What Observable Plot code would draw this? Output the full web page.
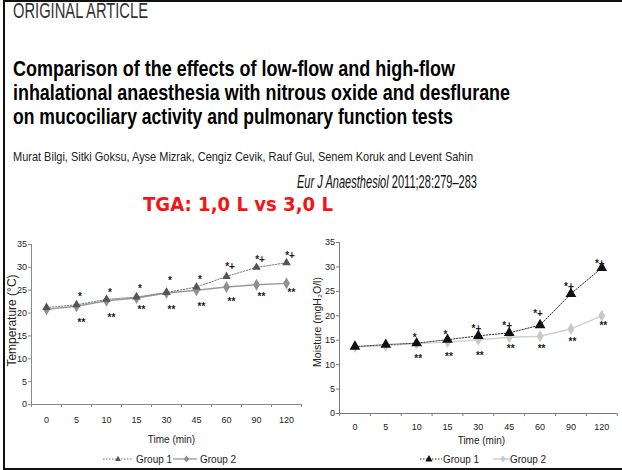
<!DOCTYPE html>
<html>
<head>
<meta charset="utf-8">
<script src="https://cdn.jsdelivr.net/npm/d3@7"></script>
<script src="https://cdn.jsdelivr.net/npm/@observablehq/plot@0.6"></script>
<style>
  html, body { margin: 0; padding: 0; background: #fff; }
  #page { position: relative; width: 622px; height: 470px; overflow: hidden; background: #fff; }
  .t { position: absolute; white-space: nowrap; line-height: 1; display: inline-block; transform-origin: 0 0; }
  .narrow { font-family: "Liberation Sans Narrow", "Arial Narrow", "Liberation Sans", sans-serif; }
  .bar { position: absolute; background: #111; }
  .chart { position: absolute; }
  .leg { position: absolute; top: 222px; height: 14px; font-family: "Liberation Sans Narrow", "Liberation Sans", sans-serif; font-size: 10px; color: #222; }
  .leg svg { position: absolute; top: 2px; }
  .leg span { position: absolute; top: 1.5px; white-space: nowrap; }
</style>
</head>
<body>
<div id="page"></div>
<script>
// ---------- data ----------
const timeLabels = ["0", "5", "10", "15", "30", "45", "60", "90", "120"];
const seriesNames = ["Group 1", "Group 2"];

const tempGroup1 = [21.2, 21.8, 23.0, 23.5, 24.5, 25.7, 28.0, 30.0, 31.0];
const tempGroup2 = [20.8, 21.5, 22.7, 23.3, 24.4, 25.0, 25.7, 26.2, 26.5];
const tempSig1 = ["", "*", "*", "*", "*", "*", "*+", "*+", "*+"];
const tempSig1At = [null, 24.0, 24.9, 25.7, 27.5, 27.7, 30.6, 32.2, 33.1];
const tempSig2 = ["", "**", "**", "**", "**", "**", "**", "**", "**"];
const tempSig2At = [null, 18.5, 19.5, 21.3, 21.3, 22.0, 23.1, 24.1, 24.9];

const moistGroup1 = [13.7, 14.1, 14.4, 15.1, 15.9, 16.5, 18.1, 24.5, 29.8];
const moistGroup2 = [13.6, 13.9, 14.3, 14.6, 15.1, 15.6, 15.8, 17.3, 20.0];
const moistSig1 = ["", "", "*", "*", "*+", "*+", "*+", "*+", "*+"];
const moistSig1At = [null, null, 16.0, 16.6, 17.7, 18.4, 20.9, 26.3, 31.1];
const moistSig2 = ["", "", "**", "**", "**", "**", "**", "**", "**"];
const moistSig2At = [null, null, 11.7, 12.2, 12.3, 13.7, 13.7, 15.1, 18.4];

const yTicks = [0, 5, 10, 15, 20, 25, 30, 35];

const headerText = "ORIGINAL ARTICLE";
const titleLines = [
  "Comparison of the effects of low-flow and high-flow",
  "inhalational anaesthesia with nitrous oxide and desflurane",
  "on mucociliary activity and pulmonary function tests"
];
const authorsText = "Murat Bilgi, Sitki Goksu, Ayse Mizrak, Cengiz Cevik, Rauf Gul, Senem Koruk and Levent Sahin";
const journalName = "Eur J Anaesthesiol";
const journalRef = " 2011;28:279\u2013283";
const redNote = "TGA: 1,0 L vs 3,0 L";

// ---------- page text ----------
const page = document.getElementById("page");
function addText(html, cls, left, baseline, fs, width, style) {
  const el = document.createElement("div");
  el.className = "t " + cls;
  el.innerHTML = html;
  el.style.left = left + "px";
  el.style.fontSize = fs + "px";
  el.style.top = (baseline - 0.8465 * fs) + "px";
  Object.assign(el.style, style || {});
  page.appendChild(el);
  const w = el.getBoundingClientRect().width;
  if (width && w > 0) el.style.transform = `scaleX(${width / w})`;
  return el;
}
function bar(l, t, w, h) {
  const b = document.createElement("div");
  b.className = "bar";
  Object.assign(b.style, {left: l + "px", top: t + "px", width: w + "px", height: h + "px"});
  page.appendChild(b);
}
bar(3, 0, 619, 2);
bar(3, 0, 2, 470);
bar(3, 468, 619, 2);

addText(headerText, "narrow", 12.7, 19, 21.5, 135, {color: "#333"});
const titleBase = [76.3, 100.6, 124.8];
const titleW = [442, 497, 440];
titleLines.forEach((s, k) => addText(s, "narrow", 13, titleBase[k], 22, titleW[k], {fontWeight: "bold", color: "#000"}));
addText(authorsText, "narrow", 13, 161.7, 13.5, 460, {color: "#222"});
addText(`<i>${journalName}</i>${journalRef}`, "narrow", 296.7, 188.3, 19, 180, {color: "#111"});
addText(redNote, "", 143, 210.7, 20, 190, {fontFamily: "'Comic Sans MS', 'DejaVu Sans', sans-serif", fontWeight: "bold", color: "#f31515"});

// ---------- charts ----------
function makeChart(o) {
  const rows1 = o.g1.map((v, i) => ({i, v, s: seriesNames[0]}));
  const rows2 = o.g2.map((v, i) => ({i, v, s: seriesNames[1]}));
  const a1 = o.sig1.map((t, i) => ({i, t, y: o.sig1At[i]})).filter(d => d.t);
  const a2 = o.sig2.map((t, i) => ({i, t, y: o.sig2At[i]})).filter(d => d.t);
  return Plot.plot({
    width: o.width, height: o.height,
    marginLeft: o.ml, marginRight: o.mr, marginTop: o.mt, marginBottom: o.mb,
    style: {fontFamily: "'Liberation Sans Narrow', 'Liberation Sans', sans-serif", fontSize: "9px", color: "#222", background: "transparent", overflow: "visible"},
    x: {domain: [-0.5, timeLabels.length - 0.5]},
    y: {domain: [0, 35]},
    marks: [
      Plot.axisY({ticks: yTicks, tickSize: 3, tickPadding: 1.5, label: null, stroke: o.axis}),
      Plot.axisX({ticks: d3.range(-0.5, timeLabels.length, 1), tickSize: 3, tickFormat: () => "", label: null, stroke: o.axis}),
      Plot.axisX({ticks: d3.range(timeLabels.length), tickSize: 0, tickPadding: o.tp, tickFormat: i => timeLabels[i], label: null}),
      Plot.ruleX([-0.5], {stroke: o.axis}),
      Plot.ruleY([0], {stroke: o.axis}),
      Plot.line(rows2, {x: "i", y: "v", stroke: o.c2line, strokeWidth: 1.4}),
      Plot.line(rows1, {x: "i", y: "v", stroke: o.c1line, strokeWidth: 1, strokeDasharray: "1.5,1.5"}),
      Plot.dot(rows2, {x: "i", y: "v", symbol: "diamond", r: o.r2, fill: o.c2, stroke: "none"}),
      Plot.dot(rows1, {x: "i", y: "v", symbol: "triangle", r: o.r1, fill: o.c1, stroke: "none"}),
      Plot.text(a1, {x: "i", y: "y", text: "t", dx: o.dx1, dy: 2.2, fontSize: 10, fill: "#1a1a1a", fontWeight: "bold", fontFamily: "'Liberation Sans', sans-serif"}),
      Plot.text(a2, {x: "i", y: "y", text: "t", dx: o.dx2, dy: 2.5, fontSize: 10, fill: "#1a1a1a", fontWeight: "bold", fontFamily: "'Liberation Sans', sans-serif"}),
      Plot.text([o.yLabel], {frameAnchor: "left", textAnchor: "middle", lineAnchor: "middle", text: d => d, rotate: -90, dx: o.ylx, dy: o.yly, fontSize: o.ylfs, fill: "#222", fontFamily: "'Liberation Sans', sans-serif"}),
      Plot.text(["Time (min)"], {frameAnchor: "bottom", textAnchor: "middle", lineAnchor: "middle", text: d => d, dx: o.xlx, dy: o.xly, fontSize: 10, fill: "#222"})
    ]
  });
}

function legendIcon(w, markerX, dashed, lineColor, markerColor, shape, size) {
  const ns = "http://www.w3.org/2000/svg";
  const svg = document.createElementNS(ns, "svg");
  svg.setAttribute("width", w); svg.setAttribute("height", 10);
  const ln = document.createElementNS(ns, "line");
  ln.setAttribute("x1", 0); ln.setAttribute("x2", w); ln.setAttribute("y1", 5); ln.setAttribute("y2", 5);
  ln.setAttribute("stroke", lineColor); ln.setAttribute("stroke-width", dashed ? 1 : 1.3);
  if (dashed) ln.setAttribute("stroke-dasharray", "1.5,1.5");
  svg.appendChild(ln);
  const p = document.createElementNS(ns, "path");
  const s = size;
  const d = shape === "triangle"
    ? `M${markerX},${5 - s}L${markerX + s * 0.9},${5 + s * 0.6}L${markerX - s * 0.9},${5 + s * 0.6}Z`
    : `M${markerX},${5 - s}L${markerX + s * 0.75},5L${markerX},${5 + s}L${markerX - s * 0.75},5Z`;
  p.setAttribute("d", d); p.setAttribute("fill", markerColor);
  svg.appendChild(p);
  return svg;
}

function addChart(o) {
  const wrap = document.createElement("div");
  wrap.className = "chart";
  wrap.style.left = o.left + "px";
  wrap.style.top = o.top + "px";
  wrap.appendChild(makeChart(o));
  const leg = document.createElement("div");
  leg.className = "leg";
  leg.style.left = "0px"; leg.style.width = o.width + "px";
  o.legend.forEach(item => {
    const icon = legendIcon(item.w, item.mx, item.dashed, item.lc, item.mc, item.shape, item.size);
    icon.style.left = item.x + "px";
    leg.appendChild(icon);
    const sp = document.createElement("span");
    sp.textContent = item.name;
    sp.style.left = item.tx + "px";
    leg.appendChild(sp);
  });
  wrap.appendChild(leg);
  page.appendChild(wrap);
}

addChart({
  left: 0, top: 230, width: 310, height: 220,
  ml: 31, mr: 9, mt: 14, mb: 46, tp: 12.5,
  g1: tempGroup1, g2: tempGroup2,
  sig1: tempSig1, sig1At: tempSig1At, sig2: tempSig2, sig2At: tempSig2At,
  dx1: 3.5, dx2: 5,
  axis: "#8a8a8a", c1: "#555", c1line: "#777", c2: "#8f8f8f", c2line: "#9a9a9a", r1: 3.2, r2: 3.6,
  yLabel: "Temperature (\u00b0C)", ylx: -19, yly: -4, ylfs: 12,
  xlx: 5, xly: 35,
  legend: [
    {name: seriesNames[0], x: 102.7, w: 30, mx: 15, dashed: true, lc: "#777", mc: "#555", shape: "triangle", size: 3.2, tx: 136},
    {name: seriesNames[1], x: 173, w: 24, mx: 13.5, dashed: false, lc: "#999", mc: "#8f8f8f", shape: "diamond", size: 3.6, tx: 200}
  ]
});

addChart({
  left: 310, top: 230, width: 312, height: 220,
  ml: 29, mr: 5.3, mt: 12, mb: 37, tp: 10,
  g1: moistGroup1, g2: moistGroup2,
  sig1: moistSig1, sig1At: moistSig1At, sig2: moistSig2, sig2At: moistSig2At,
  dx1: -2, dx2: 1.5,
  axis: "#7a7a7a", c1: "#111", c1line: "#333", c2: "#c8c8c8", c2line: "#cfcfcf", r1: 4, r2: 3.6,
  yLabel: "Moisture (mgH\u2082O/l)", ylx: -22, yly: -6, ylfs: 10.5,
  xlx: 3, xly: 27.7,
  legend: [
    {name: seriesNames[0], x: 110, w: 22, mx: 9, dashed: true, lc: "#333", mc: "#111", shape: "triangle", size: 4, tx: 133},
    {name: seriesNames[1], x: 182.7, w: 17, mx: 10, dashed: false, lc: "#c8c8c8", mc: "#c8c8c8", shape: "diamond", size: 3.6, tx: 200}
  ]
});
</script>
</body>
</html>
